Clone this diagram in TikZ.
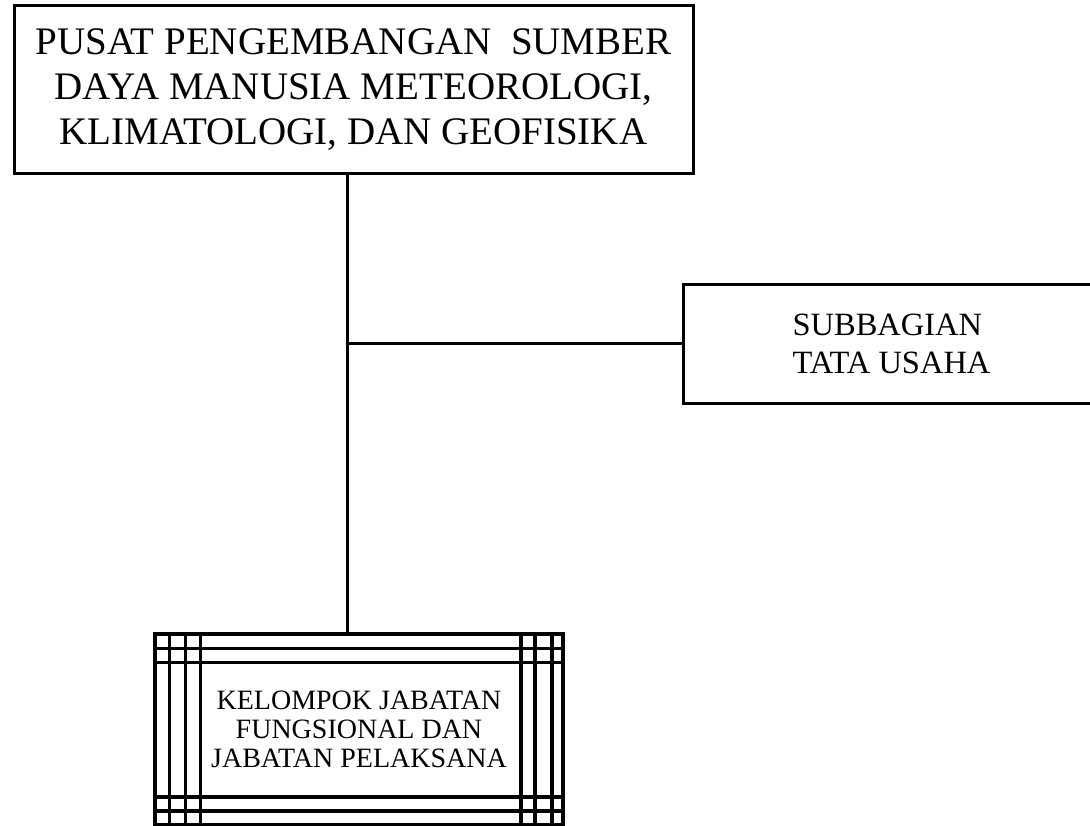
\documentclass[tikz,border=0pt]{standalone}
\usepackage{fontspec}
\setmainfont{Liberation Serif}
\tikzset{
	unit/.style={draw, line width=3pt, inner sep=0pt, align=center},
	grid/.style={line width=3.5pt}
}
\begin{document}
		\begin{tikzpicture}[x=1pt,y=-1pt]
			\useasboundingbox (0,0) rectangle (1090,826);
			\node(top) [unit, minimum width=679pt, minimum height=168pt, font={\fontsize{39}{45}\selectfont}] at (353.5,90)
				{PUSAT PENGEMBANGAN\ \ SUMBER\\DAYA MANUSIA METEOROLOGI,\\KLIMATOLOGI, DAN GEOFISIKA};
			\node(sub) [unit, align=left, minimum width=417pt, minimum height=118pt, font={\fontsize{32.5}{38}\selectfont}] at (891.5,344)
				{SUBBAGIAN\\TATA USAHA};
			\node(kel) [unit, line width=3.5pt, minimum width=408pt, minimum height=191pt, font={\fontsize{28}{29}\selectfont}] at (359,729.5)
				{KELOMPOK JABATAN\\FUNGSIONAL DAN\\JABATAN PELAKSANA};
			\coordinate(j) at (347,344);

			\foreach \d in {16,30} {
				\draw[grid] ([yshift=-\d pt]kel.north west) -- ([yshift=-\d pt]kel.north east);
				\draw[grid] ([yshift=\d pt]kel.south west) -- ([yshift=\d pt]kel.south east);
			}
			\foreach \d in {16,32,47}
				\draw[grid] ([xshift=\d pt]kel.north west) -- ([xshift=\d pt]kel.south west);
			\foreach \d in {13,30,44}
				\draw[grid] ([xshift=-\d pt]kel.north east) -- ([xshift=-\d pt]kel.south east);

			\draw[line width=3pt](top.south -| j) -- (kel.north -| j);
			\draw[line width=3pt](j) -- (sub.west);
		\end{tikzpicture}
\end{document}
